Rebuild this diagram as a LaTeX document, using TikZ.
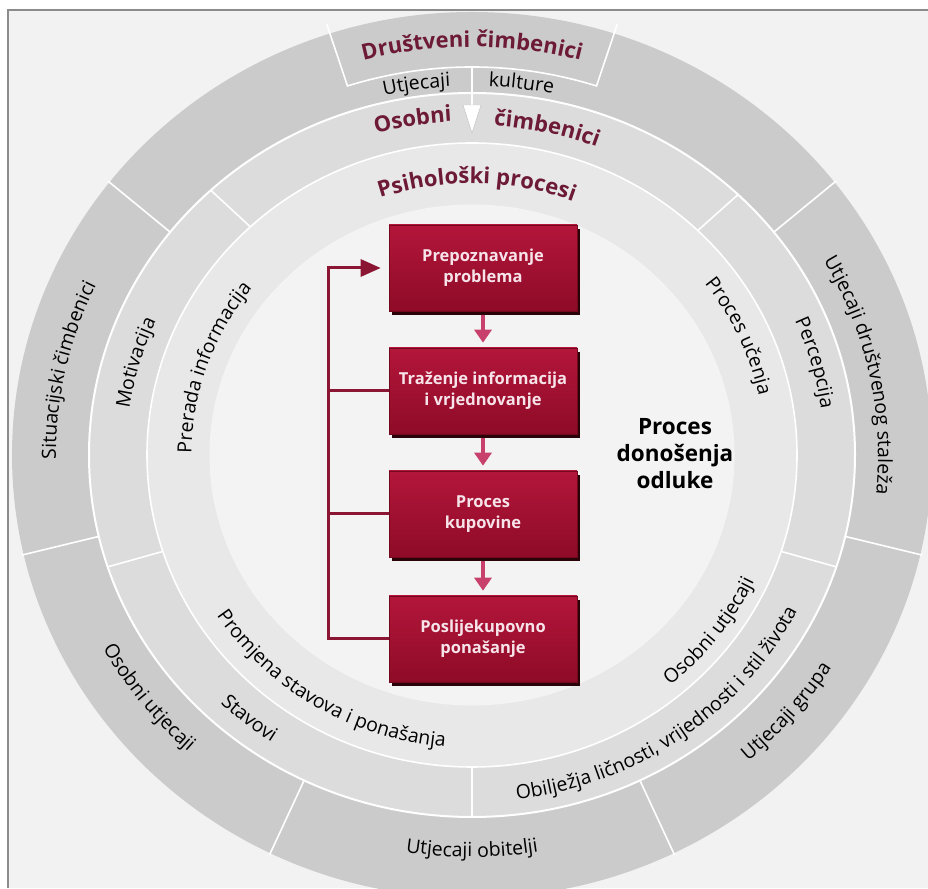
\documentclass[tikz,border=0pt]{standalone}
\usepackage{fontspec}
\setmainfont{Open Sans}
\usetikzlibrary{decorations.text,arrows.meta,shadows,calc}

\definecolor{paper}{HTML}{F2F2F2}
\definecolor{framecol}{HTML}{8C8C8C}
\definecolor{ringA}{HTML}{CBCBCB}
\definecolor{ringB}{HTML}{DCDCDC}
\definecolor{ringC}{HTML}{E8E8E8}
\definecolor{ringD}{HTML}{F3F3F3}
\definecolor{maroon}{HTML}{6D1A36}
\definecolor{boxtop}{HTML}{B3163A}
\definecolor{boxbot}{HTML}{8E0B27}
\definecolor{boxshadow}{HTML}{2A0308}
\definecolor{boxtext}{HTML}{F7E4EA}
\definecolor{pinkarrow}{HTML}{C8416C}
\definecolor{fbcol}{HTML}{8A1634}

\newcommand\ringfont{\fontsize{19.5}{23}\selectfont}
\newcommand\titlefont{\color{maroon}\bfseries\fontsize{22}{26}\selectfont}

% #1 x radius, #2 y radius, #3 start angle, #4 end angle, #5 format, #6 text
\newcommand\arctext[6]{%
  \path[decorate,decoration={text along path,text align=center,text={|#5|#6}}]
    ($(C)+(#3:#1pt and #2pt)$) arc[start angle=#3,end angle=#4,x radius=#1pt,y radius=#2pt];%
}

\tikzset{
  divider/.style={white,line width=1.6pt},
  redbox/.style={minimum width=188pt,minimum height=86pt,inner sep=2pt,align=center,
    top color=boxtop,bottom color=boxbot,draw=boxbot!80!black,line width=0.6pt,
    text=boxtext,font=\bfseries\fontsize{16.5}{21}\selectfont,
    drop shadow={shadow xshift=3pt,shadow yshift=-4pt,fill=boxshadow,opacity=1}},
  steparrow/.style={pinkarrow,line width=4.5pt,-{Triangle[width=17pt,length=13pt]},
    shorten <=4pt,shorten >=5pt},
  fbline/.style={fbcol,line width=3pt},
}

\begin{document}
\begin{tikzpicture}[x=1pt,y=1pt]
\useasboundingbox (0,0) rectangle (928,888);
\clip (0,0) rectangle (928,888);
\fill[white] (0,0) rectangle (928,888);
\fill[paper] (8,0) rectangle (928,878);

\coordinate (C) at (472,433);

% rings
\fill[ringA] (C) ellipse [x radius=460pt,y radius=443pt];
\fill[ringB] (C) ellipse [x radius=383pt,y radius=362pt];
\fill[ringC] (C) ellipse [x radius=325pt,y radius=312pt];
\fill[ringD] (C) ellipse [x radius=262pt,y radius=250pt];
\draw[white,line width=2pt] (C) ellipse [x radius=383pt,y radius=362pt];
\draw[white,line width=1.6pt] (C) ellipse [x radius=325pt,y radius=312pt];
\draw[white!50!ringC,line width=1pt] (C) ellipse [x radius=262pt,y radius=250pt];

% dividers
\foreach \a in {38,142,193,244,296,347}
  \draw[divider] ($(C)+(\a:462pt and 445pt)$) -- ($(C)+(\a:383pt and 362pt)$);
\foreach \a in {46,133,198,270,342}
  \draw[divider] ($(C)+(\a:383pt and 362pt)$) -- ($(C)+(\a:325pt and 312pt)$);

% top tab
\draw[divider] ($(C)+(108:470pt and 453pt)$) -- ($(C)+(108:403pt and 388pt)$)
  arc[start angle=108,end angle=72,x radius=403pt,y radius=388pt]
  -- ($(C)+(72:470pt and 453pt)$);
\coordinate (tabbot) at ($(C)+(90:403pt and 388pt)$);
\coordinate (arrtop) at (472,783);
\draw[white,line width=2pt] (tabbot) -- (arrtop);
\filldraw[fill=white,draw=black!25,line width=0.4pt] (463,783) -- (481,783) -- (472,755) -- cycle;

% frame
\draw[framecol,line width=1.3pt] (8,0) -- (8,878) -- (928,878);

% outer ring texts
\arctext{424}{408}{120}{60}{\titlefont}{Društveni čimbenici}
\arctext{391}{369}{112}{84.2}{\ringfont}{Utjecaji}
\arctext{391}{369}{97}{68.6}{\ringfont}{kulture}
\arctext{416}{396}{202}{133.6}{\ringfont}{Situacijski čimbenici}
\arctext{421}{402}{183}{252.6}{\ringfont}{Osobni utjecaji}
\arctext{421}{402}{238}{302}{\ringfont}{Utjecaji obitelji}
\arctext{423}{404}{288}{351.6}{\ringfont}{Utjecaji grupa}
\arctext{406}{388}{50}{-26}{\ringfont}{Utjecaji društvenog staleža}

% ring 2 texts
\arctext{352}{334}{115}{84.2}{\titlefont}{Osobni}
\arctext{347}{330}{96}{59.2}{\titlefont}{čimbenici}
\arctext{346}{329}{192}{136.2}{\ringfont}{Motivacija}
\arctext{352.5}{335.5}{44}{-12.8}{\ringfont}{Percepcija}
\arctext{362}{345}{208}{254}{\ringfont}{Stavovi}
\arctext{364}{347}{240}{372}{\ringfont}{Obilježja ličnosti, vrijednosti i stil života}

% ring 3 texts
\arctext{284}{271.5}{120}{58}{\titlefont}{Psihološki procesi}
\arctext{280.5}{268.5}{210}{112}{\ringfont}{Prerada informacija}
\arctext{293.5}{281.5}{60}{-10.8}{\ringfont}{Proces učenja}
\arctext{305.5}{293}{182}{295.2}{\ringfont}{Promjena stavova i ponašanja}
\arctext{311.5}{298.5}{286}{359.2}{\ringfont}{Osobni utjecaji}

% process boxes
\node[redbox] (b1) at (483,620) {Prepoznavanje\\problema};
\node[redbox] (b2) at (483,497) {Traženje informacija\\i vrjednovanje};
\node[redbox] (b3) at (483,374) {Proces\\kupovine};
\node[redbox] (b4) at (483,249) {Poslijekupovno\\ponašanje};

\draw[steparrow] (b1.south) -- (b2.north);
\draw[steparrow] (b2.south) -- (b3.north);
\draw[steparrow] (b3.south) -- (b4.north);

% feedback loop
\coordinate (fbx) at (328,0);
\draw[fbline,-{Triangle[width=17pt,length=20pt]}] (b4.west) -- (b4.west -| fbx) |- ([xshift=-8pt]b1.west);
\draw[fbline] (b2.west) -- (b2.west -| fbx);
\draw[fbline] (b3.west) -- (b3.west -| fbx);

% central label
\node[font=\bfseries\fontsize{22.5}{27}\selectfont,align=center] (lbl) at (675,434) {Proces\\donošenja\\odluke};
\end{tikzpicture}
\end{document}
